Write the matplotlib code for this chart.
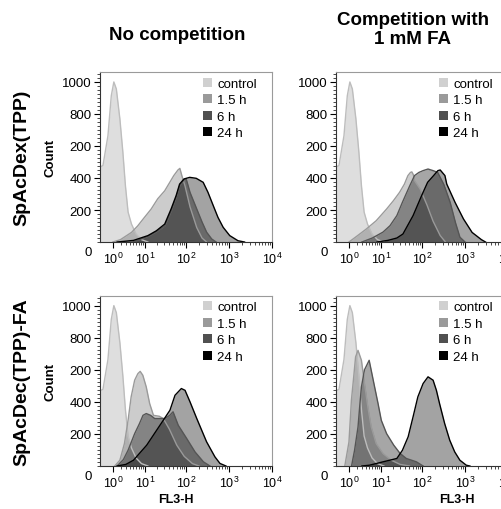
import numpy as np
import matplotlib
matplotlib.use("Agg")
import matplotlib.pyplot as plt
from matplotlib.patches import Patch
from matplotlib.ticker import FixedLocator, MultipleLocator

plt.rcParams['font.family'] = ['Liberation Sans', 'DejaVu Sans']
plt.rcParams['mathtext.fontset'] = 'custom'
plt.rcParams['mathtext.rm'] = 'Liberation Sans'

# FL3-H values (x) and counts (y)
control_x = [0, 0.17, 0.53, 0.83, 1.1, 1.4, 1.9, 2.4, 2.9, 3.5, 4.4, 5.9, 8.2, 12]
control_y = [470, 477, 664, 914, 1000, 956, 769, 562, 352, 187, 112, 50, 15, 0]

# top left: SpAcDex(TPP), no competition
tl_15h_x = [1.0, 2, 4.4, 6.5, 9.9, 14.5, 21, 31, 41, 51, 64, 71, 80, 94, 123, 177, 235, 300]
tl_15h_y = [0, 15, 60, 100, 155, 206, 270, 320, 373, 415, 450, 460, 410, 350, 220, 90, 25, 0]
tl_6h_x = [5, 12, 19, 31, 44, 58, 70, 89, 100, 123, 177, 235, 300, 395, 500]
tl_6h_y = [0, 35, 62, 100, 190, 280, 350, 390, 394, 310, 206, 125, 62, 19, 0]
tl_24h_x = [1.5, 5, 12, 19.4, 31, 44, 58, 70, 89, 121, 172, 250, 324, 430, 553, 730, 1040, 1620, 2300]
tl_24h_y = [0, 10, 40, 70, 112, 206, 290, 362, 394, 404, 398, 373, 310, 227, 154, 92, 40, 8, 0]

# top right: SpAcDex(TPP), competition with FA
tr_15h_x = [1, 2, 4, 7.6, 14, 20.6, 29, 38, 46, 53, 57, 62, 66, 90, 130, 180, 264, 350]
tr_15h_y = [0, 35, 80, 133, 206, 258, 310, 362, 415, 435, 438, 420, 383, 330, 230, 130, 40, 0]
tr_6h_x = [3, 6, 11.4, 17, 25, 34, 51, 66, 84, 105, 137, 180, 230, 320, 450, 600, 760, 1000]
tr_6h_y = [0, 25, 62, 102, 165, 248, 352, 415, 435, 446, 456, 446, 435, 360, 248, 120, 30, 0]
tr_24h_x = [8, 15, 25, 35, 61, 97, 134, 185, 233, 264, 340, 375, 585, 920, 1460, 2400, 3000]
tr_24h_y = [0, 10, 25, 50, 165, 290, 373, 415, 446, 450, 415, 362, 248, 144, 60, 15, 0]

# bottom left: SpAcDec(TPP)-FA, no competition
bl_15h_x = [1.2, 1.9, 2.7, 3.5, 4.3, 5.4, 6.6, 7.6, 8.9, 10.9, 13.3, 16.5, 23, 28.6, 40, 60, 90, 140, 200]
bl_15h_y = [0, 36, 140, 285, 431, 535, 576, 590, 566, 493, 389, 316, 310, 296, 230, 130, 60, 15, 0]
bl_6h_x = [1.5, 2.5, 3.5, 5.4, 7.3, 9, 10.9, 14, 17.7, 23.4, 31, 41, 49, 65, 103, 161, 253, 360]
bl_6h_y = [0, 40, 98, 202, 265, 316, 327, 316, 296, 296, 296, 316, 338, 254, 171, 88, 26, 0]
bl_24h_x = [1.5, 3, 5, 11.2, 23.8, 41.4, 54.5, 77, 94, 123, 177, 300, 470, 616, 850]
bl_24h_y = [0, 10, 36, 130, 254, 348, 441, 483, 472, 400, 296, 151, 57, 16, 0]

# bottom right: SpAcDec(TPP)-FA, competition with FA
br_15h_x = [0.6, 1.0, 1.28, 1.58, 1.85, 2.25, 2.9, 3.6, 4.5, 5.6, 7.6, 11.4, 18.3, 30, 50]
br_15h_y = [0, 150, 410, 556, 680, 721, 659, 514, 369, 244, 140, 78, 36, 10, 0]
br_6h_x = [1.3, 1.7, 2.25, 2.6, 2.9, 3.6, 4.9, 6.9, 8.5, 10.3, 14, 21, 30, 42, 73, 105]
br_6h_y = [0, 98, 244, 389, 493, 600, 659, 493, 389, 285, 202, 130, 78, 47, 26, 0]
br_24h_x = [3, 5, 11.4, 25, 34, 46.6, 61, 79, 105, 137, 180, 215, 255, 335, 440, 575, 760, 1070, 1300]
br_24h_y = [0, 5, 26, 47, 98, 182, 307, 431, 514, 556, 535, 472, 389, 265, 161, 88, 36, 5, 0]

labels = ['control', '1.5 h', '6 h', '24 h']
swatch = ['#d0d0d0', '#9a9a9a', '#505050', '#000000']
alphas = [0.13, 0.20, 0.35, 0.36]
edges = ['#bdbdbd', '#9a9a9a', '#555555', '#000000']

ytick_pos = [200, 400, 600, 800, 1000]
ytick_lab = ['200', '400', '200', '800', '1000']
xtick_pos = [1, 10, 100, 1000, 10000]
xtick_lab = [r'$\mathregular{10^{%d}}$' % i for i in range(5)]

panels = [
    ([control_x, tl_15h_x, tl_6h_x, tl_24h_x], [control_y, tl_15h_y, tl_6h_y, tl_24h_y]),
    ([control_x, tr_15h_x, tr_6h_x, tr_24h_x], [control_y, tr_15h_y, tr_6h_y, tr_24h_y]),
    ([control_x, bl_15h_x, bl_6h_x, bl_24h_x], [control_y, bl_15h_y, bl_6h_y, bl_24h_y]),
    ([control_x, br_15h_x, br_6h_x, br_24h_x], [control_y, br_15h_y, br_6h_y, br_24h_y]),
]
positions = [
    [0.1996, 0.5235, 0.3433, 0.3333],
    [0.6707, 0.5235, 0.3433, 0.3333],
    [0.1996, 0.0843, 0.3433, 0.3340],
    [0.6707, 0.0843, 0.3433, 0.3340],
]


def fwd(x):
    return np.log10(np.maximum(np.asarray(x, float), -0.99) + 1)


def inv(y):
    return 10 ** np.asarray(y, float) - 1


fig = plt.figure(figsize=(5.01, 5.10), dpi=100)

for i, (xs, ys) in enumerate(panels):
    ax = fig.add_axes(positions[i])
    ax.set_xscale('function', functions=(fwd, inv))
    for k in range(4):
        ax.fill_between(xs[k], ys[k], 0, color='black', alpha=alphas[k], lw=0)
        ax.plot(xs[k], ys[k], color=edges[k], lw=1.0)
    ax.set_xlim(0, 10000)
    ax.set_ylim(0, 1062)
    ax.xaxis.set_major_locator(FixedLocator(xtick_pos))
    ax.set_xticklabels(xtick_lab)
    ax.xaxis.set_minor_locator(FixedLocator([m * 10 ** e for e in range(4) for m in range(2, 10)]))
    ax.set_yticks(ytick_pos)
    ax.set_yticklabels(ytick_lab)
    ax.yaxis.set_minor_locator(MultipleLocator(25))
    ax.tick_params(axis='y', which='major', length=4, width=0.8, labelsize=9.5, pad=2)
    ax.tick_params(axis='x', which='major', length=4, width=0.8, labelsize=9, pad=2)
    ax.tick_params(which='minor', length=2, width=0.5)
    for s in ['top', 'right']:
        ax.spines[s].set_color('#9a9a9a')
    for s in ['left', 'bottom']:
        ax.spines[s].set_color('#333333')
    for s in ax.spines.values():
        s.set_linewidth(0.8)
    ax.text(-0.07, -0.06, '0', transform=ax.transAxes, ha='center', va='center', fontsize=9.5)
    handles = [Patch(facecolor=c, edgecolor='none') for c in swatch]
    ax.legend(handles, labels, loc='upper left', bbox_to_anchor=(0.59, 0.975), frameon=False,
              fontsize=9.5, handlelength=0.7, handleheight=0.7, handletextpad=0.4,
              labelspacing=0.32, borderpad=0.1, borderaxespad=0)
    if i % 2 == 0:
        ax.set_ylabel('Count', fontsize=9.5, fontweight='bold', labelpad=4)

fig.text(177 / 501, 1 - 36 / 510, 'No competition', ha='center', va='center',
         fontsize=13.5, fontweight='bold')
fig.text(413 / 501, 1 - 30 / 510, 'Competition with\n1 mM FA', ha='center', va='center',
         fontsize=13.5, fontweight='bold', linespacing=1.2)
fig.text(22 / 501, 1 - 158 / 510, 'SpAcDex(TPP)', rotation=90, ha='center', va='center',
         fontsize=14, fontweight='bold')
fig.text(22 / 501, 1 - 382 / 510, 'SpAcDec(TPP)-FA', rotation=90, ha='center', va='center',
         fontsize=14, fontweight='bold')
fig.text(176 / 501, 1 - 500 / 510, 'FL3-H', ha='center', va='center', fontsize=9, fontweight='bold')
fig.text(457 / 501, 1 - 500 / 510, 'FL3-H', ha='center', va='center', fontsize=9, fontweight='bold')

fig.savefig('out.png', dpi=100)
